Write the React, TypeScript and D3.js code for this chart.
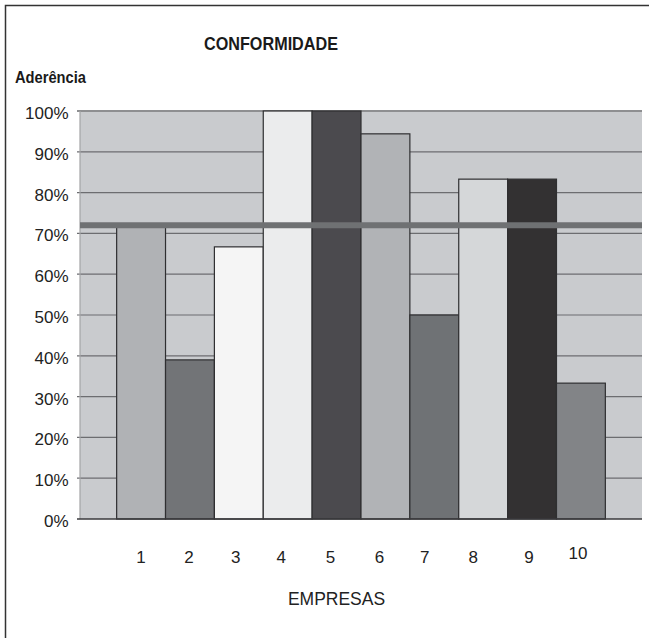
import React from "react";
import * as d3 from "d3";

// Conformity (adherence) per company
const empresas = ["1", "2", "3", "4", "5", "6", "7", "8", "9", "10"];
const aderencia = [0.72, 0.39, 0.667, 1.0, 1.0, 0.944, 0.5, 0.833, 0.833, 0.333];
const barColors = [
  "#b0b2b5", "#727477", "#f5f5f5", "#ebeced", "#4b4a4e",
  "#b1b3b6", "#6f7275", "#d5d7d9", "#333132", "#828487",
];
// Reference level drawn across the chart
const referencia = 0.72;
const yTicks = [0, 0.1, 0.2, 0.3, 0.4, 0.5, 0.6, 0.7, 0.8, 0.9, 1.0];
// Hand-placed category label nudges (px) relative to each bar centre
const labelDx = [0, -1, -3, -6.5, -6, -6, -9.5, -10, -3, -3];
const labelDy = [0, 0, 0, 0, 0, 0, 0, 0, 0, -4];

const W = 649;
const H = 638;
const plot = { left: 80, right: 642, top: 111, bottom: 519 };
const font = "'Liberation Sans', Arial, Helvetica, sans-serif";

export default function App() {
  const y = d3.scaleLinear().domain([0, 1]).range([plot.bottom, plot.top]);
  // Single category holding ten series, gap width 150%
  const barW = (plot.right - plot.left) / (empresas.length + 1.5);
  const x = d3
    .scaleBand<string>()
    .domain(empresas)
    .range([plot.left + barW * 0.75, plot.right - barW * 0.75])
    .paddingInner(0)
    .paddingOuter(0);
  const fmt = d3.format(".0%");

  return (
    <svg
      width={W}
      height={H}
      style={{ position: "absolute", left: 0, top: 0, background: "#fff" }}
    >
      {/* outer frame */}
      <rect x={5.5} y={5.5} width={W + 20} height={H + 20} fill="none" stroke="#333" strokeWidth={1.5} />

      <text x={271} y={43} textAnchor="middle" dominantBaseline="central" fontFamily={font}
        fontWeight="bold" fontSize={19} textLength={134} lengthAdjust="spacingAndGlyphs" fill="#1a1a1a">
        CONFORMIDADE
      </text>
      <text x={15} y={77.5} dominantBaseline="central" fontFamily={font} fontWeight="bold"
        fontSize={16} textLength={71} lengthAdjust="spacingAndGlyphs" fill="#1a1a1a">
        Aderência
      </text>

      {/* plot area */}
      <rect x={plot.left} y={plot.top} width={plot.right - plot.left} height={plot.bottom - plot.top} fill="#c9cbce" />

      {/* grid lines and ticks */}
      {yTicks.map((t) => (
        <g key={t}>
          {t > 0 && (
            <line x1={plot.left - 3} x2={plot.right} y1={y(t)} y2={y(t)}
              stroke={t === 1 ? "#8e8f91" : "#6c6d70"} strokeWidth={t === 1 ? 2 : 1.2} />
          )}
          <text x={68.5} y={y(t) + 2.5} textAnchor="end" dominantBaseline="central"
            fontFamily={font} fontSize={17} fill="#222">
            {fmt(t)}
          </text>
        </g>
      ))}
      <line x1={plot.left} x2={plot.left} y1={plot.top} y2={plot.bottom} stroke="#a3a4a6" strokeWidth={1.2} />

      {/* bars */}
      {empresas.map((e, i) => (
        <rect key={e} x={x(e)} y={y(aderencia[i])} width={x.bandwidth()}
          height={plot.bottom - y(aderencia[i])} fill={barColors[i]} stroke="#2f2f31" strokeWidth={1.2} />
      ))}

      {/* baseline */}
      <line x1={plot.left - 3} x2={plot.right} y1={plot.bottom} y2={plot.bottom} stroke="#3a3a3c" strokeWidth={1.5} />

      {/* reference level */}
      <line x1={plot.left} x2={plot.right} y1={y(referencia)} y2={y(referencia)} stroke="#6f7173" strokeWidth={6} />

      {/* category labels */}
      {empresas.map((e, i) => (
        <text key={e} x={(x(e) as number) + x.bandwidth() / 2 + labelDx[i]} y={557 + labelDy[i]}
          textAnchor="middle" dominantBaseline="central" fontFamily={font} fontSize={17} fill="#222">
          {e}
        </text>
      ))}

      <text x={336.5} y={599} textAnchor="middle" dominantBaseline="central" fontFamily={font}
        fontSize={17.5} fill="#222">
        EMPRESAS
      </text>
    </svg>
  );
}
